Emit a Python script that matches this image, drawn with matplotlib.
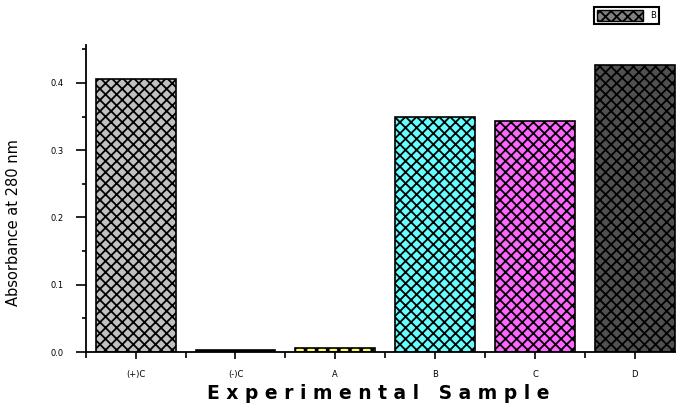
import matplotlib.pyplot as plt
from matplotlib.patches import Patch
from matplotlib.ticker import MultipleLocator

# valeurs
samples = ["(+)C", "(-)C", "A", "B", "C", "D"]
absorbance = [0.406, 0.003, 0.006, 0.349, 0.343, 0.427]
bar_colors = ["#c0c0c0", "#000000", "#ffff66", "#66ffff", "#ff66ff", "#505050"]
legend_label = "B"

plt.rcParams['hatch.linewidth'] = 1.3

fig = plt.figure(figsize=(6.76, 4.08), dpi=100)
ax = fig.add_axes([85.7 / 676, 1 - 352 / 408, 599 / 676, 307 / 408])

x = range(len(samples))
ax.bar(x, absorbance, width=0.8, color=bar_colors, edgecolor="black",
       hatch="xxx", linewidth=1.2)

ax.set_xlim(-0.5, 5.5)
ax.set_ylim(0, 0.4565)

ax.spines['top'].set_visible(False)
ax.spines['right'].set_visible(False)
ax.spines['left'].set_linewidth(1.3)
ax.spines['bottom'].set_linewidth(1.3)

ax.set_xticks(list(x))
ax.set_xticklabels(samples, fontsize=6)
ax.xaxis.set_minor_locator(MultipleLocator(1.0, offset=0.5))
ax.yaxis.set_major_locator(MultipleLocator(0.1))
ax.yaxis.set_minor_locator(MultipleLocator(0.05))
ax.yaxis.set_major_formatter(plt.FormatStrFormatter('%.1f'))

ax.tick_params(axis='y', which='major', direction='out', length=7, width=1.2, pad=9, labelsize=6)
ax.tick_params(axis='y', which='minor', direction='out', length=3, width=1.2)
ax.tick_params(axis='x', which='major', direction='out', length=5, width=1.2, pad=8, labelsize=6)
ax.tick_params(axis='x', which='minor', direction='out', length=4, width=1.2)

ax.set_ylabel("Absorbance at 280 nm", fontsize=10.5)
ax.yaxis.set_label_coords(-0.108, 0.42)
ax.set_xlabel("E x p e r i m e n t a l   S a m p l e", fontsize=13.5,
              fontweight='bold')
ax.xaxis.set_label_coords(0.488, -0.105)

handle = Patch(facecolor="#808080", edgecolor="black", hatch="xxx")
leg = fig.legend([handle], [legend_label], loc="upper right",
                 bbox_to_anchor=(659 / 676, 1 - 7 / 408), fontsize=6,
                 fancybox=False, framealpha=1, edgecolor="black",
                 handlelength=5.5, handleheight=1.6, borderpad=0.4,
                 handletextpad=0.8, borderaxespad=0)
leg.get_frame().set_linewidth(1.5)

fig.savefig("out.png", dpi=100)
